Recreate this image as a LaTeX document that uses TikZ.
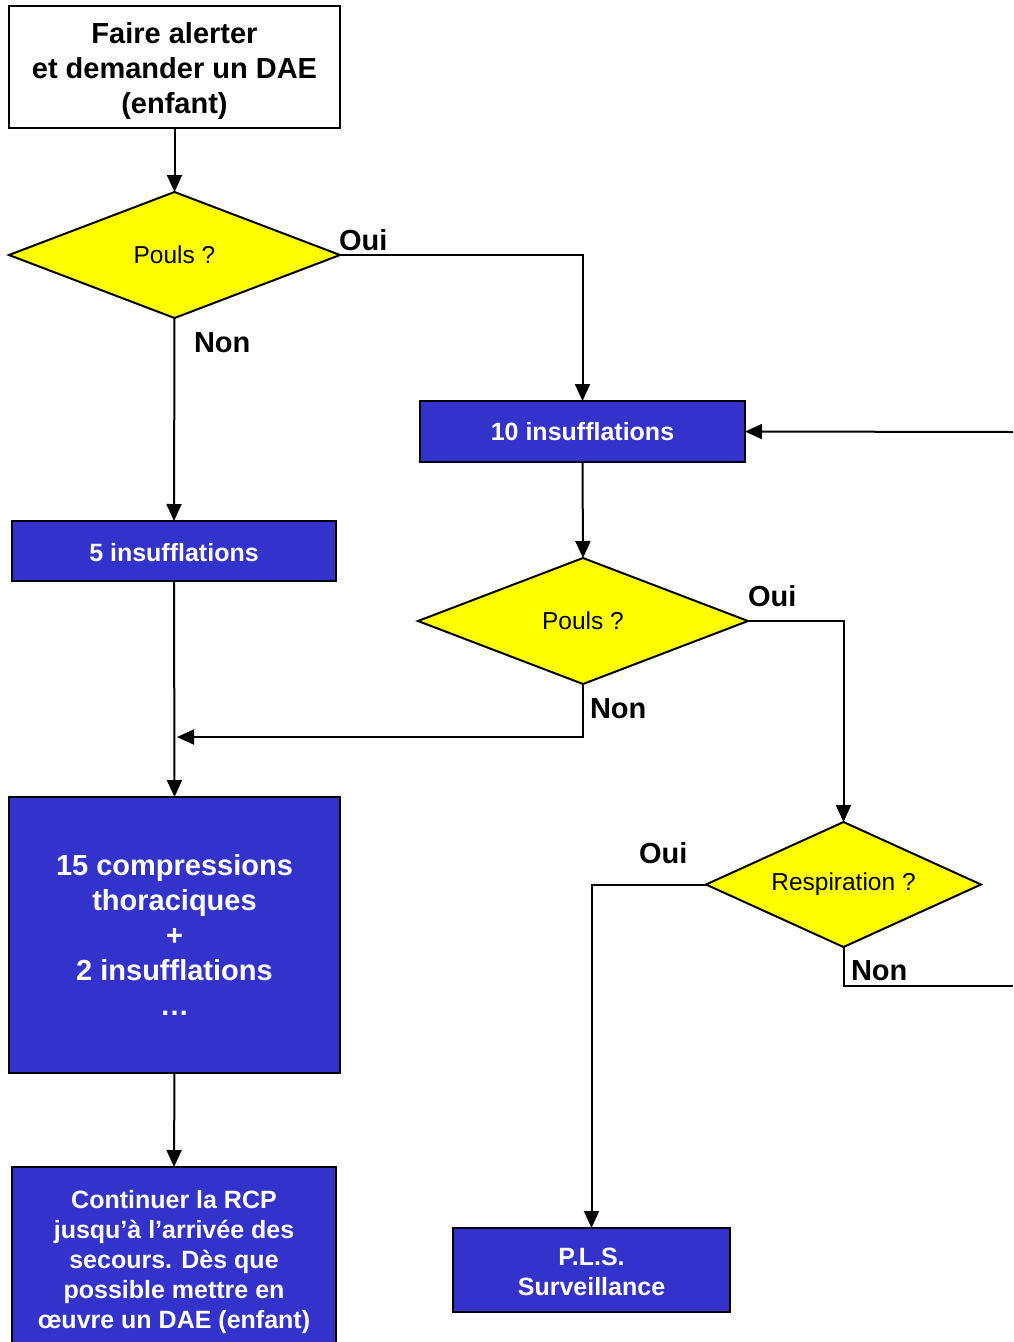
\documentclass[tikz,border=0pt]{standalone}
\usepackage{fontspec}
\setmainfont{Liberation Sans}
\usetikzlibrary{arrows.meta,shapes.geometric}
\definecolor{bleu}{RGB}{51,51,204}
\definecolor{jaune}{RGB}{255,255,0}

\begin{document}
\begin{tikzpicture}[x=1pt,y=-1pt,line width=2pt,
	fleche/.style={-{Triangle[length=17pt,width=15pt]}},
	boite/.style={draw=black, fill=bleu, text=white, align=center, inner sep=0pt, outer sep=0pt, font=\bfseries\fontsize{25}{30}\selectfont},
	question/.style={diamond, aspect=2.2, draw=black, fill=jaune, inner sep=0pt, outer sep=0pt, font=\fontsize{24.5}{29}\selectfont},
	reponse/.style={anchor=west, inner sep=0pt, font=\bfseries\fontsize{29}{35}\selectfont}]
			\useasboundingbox(0,0) rectangle (1013,1342);
			\clip(0,0) rectangle (1013,1342);
			\node[draw=black, fill=white, align=center, inner sep=0pt, outer sep=0pt, minimum width=331pt, minimum height=122pt, font=\bfseries\fontsize{29}{35}\selectfont](alerte) at (174.5,67){\rule{0pt}{29pt}Faire alerter\\et demander un DAE\\(enfant)};
			\node[question, minimum width=331pt, minimum height=126pt](pouls1) at (174.5,255){Pouls ?};
			\node[boite, minimum width=324pt, minimum height=60pt](insuf5) at (174,551){\rule{0pt}{21pt}5 insufflations};
			\node[boite, minimum width=325pt, minimum height=61pt](insuf10) at (582.5,431.5){10 insufflations};
			\node[question, minimum width=330pt, minimum height=126pt](pouls2) at (583,621){Pouls ?};
			\node[question, minimum width=275pt, minimum height=125pt](respi) at (843.5,884.5){Respiration ?};
			\node[boite, minimum width=331pt, minimum height=276pt, font=\bfseries\fontsize{29}{35}\selectfont](compr) at (174.5,935){\rule{0pt}{21pt}15 compressions\\thoraciques\\+\\2 insufflations\\…};
			\node[boite, minimum width=324pt, minimum height=191pt](suite) at (174,1262.5){Continuer la RCP\\jusqu’à l’arrivée des\\secours. Dès que\\possible mettre en\\œuvre un DAE (enfant)};
			\node[boite, minimum width=277pt, minimum height=84pt](pls) at (591.5,1270){\rule{0pt}{22pt}P.L.S.\\Surveillance};
			\coordinate(retour1) at (1013,432);
			\coordinate(retour2) at (1013,986);
			\coordinate(jonction) at (177,737);
			\node[reponse](oui1) at (338,240){Oui};
			\node[reponse](non1) at (193,343){Non};
			\node[reponse](oui2) at (747,596){Oui};
			\node[reponse](non2) at (589,709){Non};
			\node[reponse](oui3) at (638,853){Oui};
			\node[reponse](non3) at (850,971){Non};
			\draw[fleche](alerte.south) -- (pouls1.north);
			\draw[fleche](pouls1.east) -| (insuf10.north);
			\draw[fleche](pouls1.south) -- (insuf5.north);
			\draw[fleche](insuf5.south) -- (compr.north);
			\draw[fleche](retour1) -- (insuf10.east);
			\draw[fleche](insuf10.south) -- (pouls2.north);
			\draw[fleche](pouls2.east) -| (respi.north);
			\draw[fleche](pouls2.south) |- (jonction);
			\draw[fleche](compr.south) -- (suite.north);
			\draw[fleche](respi.west) -| (pls.north);
			\draw(respi.south) |- (retour2);
		\end{tikzpicture}
\end{document}
